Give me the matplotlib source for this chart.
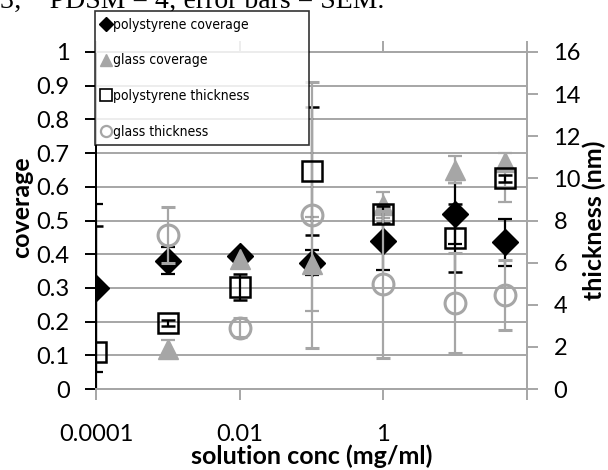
import numpy as np
import matplotlib.pyplot as plt
from matplotlib.lines import Line2D

plt.rcParams['font.family'] = ['Lato', 'DejaVu Sans']

# solution concentration (mg/ml)
conc = [0.0001, 0.001, 0.01, 0.1, 1, 10, 50]
glass_conc = [0.001, 0.01, 0.1, 1, 10, 50]

# coverage (left axis)
ps_cov = [0.30, 0.38, 0.395, 0.375, 0.44, 0.52, 0.435]
ps_cov_err = [0.25, 0.04, 0.01, 0.037, 0.088, 0.09, 0.07]
glass_cov = [0.118, 0.385, 0.37, 0.546, 0.65, 0.674]
glass_cov_lo = [0.027, 0.01, 0.14, 0.04, 0.04, 0.12]
glass_cov_hi = [0.027, 0.01, 0.14, 0.04, 0.04, 0.026]

# thickness in nm (right axis)
ps_thk = [1.76, 3.13, 4.84, 10.35, 8.3, 7.17, 10.0]
ps_thk_err = [6.0, 0.15, 0.6, 3.05, 0.4, 1.6, 0.17]
glass_thk = [7.31, 2.9, 8.26, 4.97, 4.08, 4.46]
glass_thk_err = [1.33, 0.45, 6.3, 3.5, 2.37, 1.65]

xticks = [0.0001, 0.01, 1, 100]
xticklabels = ['0.0001', '0.01', '1', '']
cov_ticks = np.round(np.arange(0, 1.01, 0.1), 1)
cov_labels = ['0'] + ['%.1f' % v for v in cov_ticks[1:-1]] + ['1']
thk_ticks = np.arange(0, 17, 2)

GRAY = '#a6a6a6'
W, H = 608, 470

fig = plt.figure(figsize=(W / 100, H / 100), dpi=100)
ax = fig.add_axes([96 / W, (H - 389) / H, (527 - 96) / W, (389 - 52) / H])
ax2 = ax.twinx()

ax.set_xscale('log')
ax.set_xlim(0.0001, 100)
ax.set_ylim(0, 1)
ax2.set_ylim(0, 16)

ax.set_yticks(cov_ticks)
ax.set_yticklabels(cov_labels)
ax2.set_yticks(thk_ticks)
ax.set_xticks(xticks)
ax.set_xticklabels(xticklabels)
ax.xaxis.set_minor_locator(plt.NullLocator())

ax.grid(axis='y', color=GRAY, lw=1.4)
ax.set_axisbelow(True)

for a in (ax, ax2):
    for s in ('left', 'right', 'top', 'bottom'):
        a.spines[s].set_color(GRAY)
        a.spines[s].set_linewidth(1.4)
ax.spines['left'].set_color('black')
ax2.spines['left'].set_color('black')

ax.tick_params(axis='y', direction='out', length=8, width=1.4, color='black',
               labelsize=17, pad=11)
ax.tick_params(axis='x', direction='out', length=8, width=1.4, color=GRAY,
               labelsize=17, pad=17, top=True)
ax2.tick_params(axis='y', direction='out', length=8, width=1.4, color=GRAY,
                labelsize=17, pad=11)

ekw = dict(linestyle='none', capsize=5, elinewidth=1.6, capthick=1.6)
ax.errorbar(conc, ps_cov, yerr=ps_cov_err, marker='D', ms=13, color='black',
            mfc='black', mec='black', ecolor='black', **ekw)
ax.errorbar(glass_conc, glass_cov, yerr=[glass_cov_lo, glass_cov_hi], marker='^',
            ms=15, color=GRAY, mfc=GRAY, mec=GRAY, ecolor=GRAY, **ekw)
ax2.errorbar(conc, ps_thk, yerr=ps_thk_err, marker='s', ms=14, mfc='none',
             mec='black', mew=1.8, ecolor='black', **ekw)
ax2.errorbar(glass_conc, glass_thk, yerr=glass_thk_err, marker='o', ms=15,
             mfc='none', mec=GRAY, mew=2.2, ecolor=GRAY, **ekw)

ax.set_ylabel('coverage', fontsize=18, fontweight='bold')
ax.yaxis.set_label_coords(-0.147, 0.54)
ax2.set_ylabel('thickness (nm)', fontsize=18, fontweight='bold')
ax2.yaxis.set_label_coords(1.128, 0.5)
ax.set_xlabel('solution conc (mg/ml)', fontsize=18, fontweight='bold')
ax.xaxis.set_label_coords(0.5, -0.165)

handles = [
    Line2D([], [], ls='none', marker='D', ms=7, color='black'),
    Line2D([], [], ls='none', marker='^', ms=8, color=GRAY),
    Line2D([], [], ls='none', marker='s', ms=8, mfc='none', mec='black', mew=1.2),
    Line2D([], [], ls='none', marker='o', ms=8, mfc='none', mec=GRAY, mew=1.6),
]
labels = ['polystyrene coverage', 'glass coverage', 'polystyrene thickness',
          'glass thickness']
leg = fig.legend(handles, labels, loc='upper left', mode='expand',
                 bbox_to_anchor=(95 / W, 1 - 143 / H, 214 / W, 132 / H),
                 frameon=True, fancybox=False,
                 handlelength=0.6, handletextpad=0.2, labelspacing=1.55,
                 borderpad=0.5, borderaxespad=0,
                 prop=dict(family='DejaVu Sans', stretch='condensed', size=10))
leg.get_frame().set_edgecolor('black')
leg.get_frame().set_linewidth(1.2)
leg.set_zorder(10)

fig.text(0.0, 1 - 8 / H, '3;    PDSM = 4; error bars = SEM.', ha='left',
         va='baseline', fontsize=20, family='Liberation Serif')

fig.savefig('out.png', dpi=100)
